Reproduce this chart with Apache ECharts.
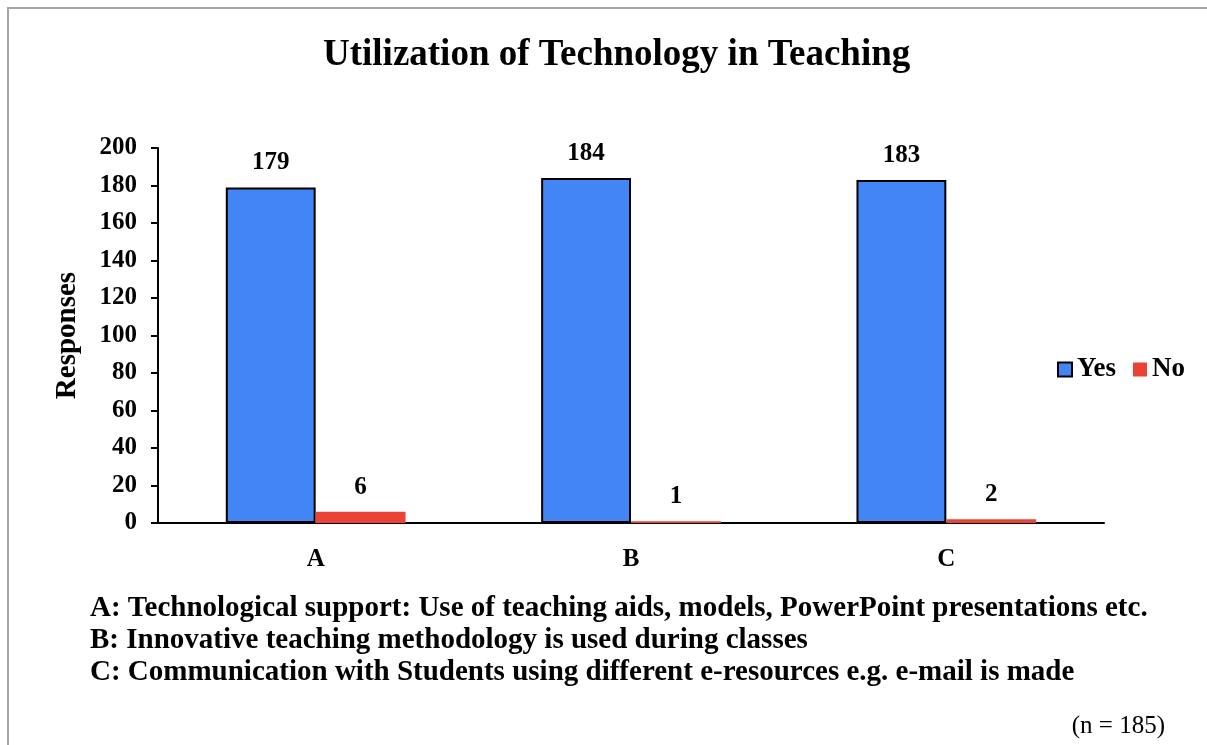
<!DOCTYPE html>
<html>
<head>
<meta charset="utf-8">
<script src="https://cdn.jsdelivr.net/npm/echarts@6/dist/echarts.min.js"></script>
<style>
  html, body { margin: 0; padding: 0; background: #fff; }
  #chart { width: 1207px; height: 745px; }
</style>
</head>
<body>
<div id="chart"></div>
<script>
const categories = ['A', 'B', 'C']
const yesValues = [179, 184, 183]
const noValues = [6, 1, 2]
const yTicks = { min: 0, max: 200, interval: 20 }
const footnotes = [
  'A: Technological support: Use of teaching aids, models, PowerPoint presentations etc.',
  'B: Innovative teaching methodology is used during classes',
  'C: Communication with Students using different e-resources e.g. e-mail is made'
]
const sampleNote = '(n = 185)'

const FONT = '"Liberation Serif", "Times New Roman", serif'

const chart = echarts.init(document.getElementById('chart'))

const labelStyle = {
  show: true,
  position: 'top',
  distance: 12,
  fontFamily: FONT,
  fontWeight: 'bold',
  fontSize: 25,
  color: '#000'
}

const option = {
  animation: false,
  backgroundColor: '#fff',
  textStyle: { fontFamily: FONT },
  title: [
    {
      text: 'Utilization of Technology in Teaching',
      left: 318,
      top: 32,
      textStyle: { fontFamily: FONT, fontWeight: 'bold', fontSize: 37, color: '#000' }
    },
    ...footnotes.map((t, i) => ({
      text: t,
      left: 85,
      top: 589 + i * 32,
      textStyle: { fontFamily: FONT, fontWeight: 'bold', fontSize: 29, color: '#000' }
    })),
    {
      text: sampleNote,
      right: 37,
      top: 709,
      textStyle: { fontFamily: FONT, fontWeight: 'normal', fontSize: 25, color: '#000' }
    }
  ],
  graphic: [
    {
      type: 'polyline',
      shape: { points: [[8, 760], [8, 8], [1220, 8]] },
      style: { stroke: '#a6a6a6', lineWidth: 2, fill: null },
      silent: true
    }
  ],
  legend: {
    data: ['Yes', 'No'],
    right: 17,
    top: 351,
    itemWidth: 14,
    itemHeight: 14,
    itemGap: 17,
    icon: 'rect',
    textStyle: { fontFamily: FONT, fontWeight: 'bold', fontSize: 27, color: '#000' }
  },
  grid: {
    left: 158,
    right: 103,
    top: 148,
    bottom: 222,
    containLabel: false
  },
  xAxis: {
    type: 'category',
    data: categories,
    axisLine: { lineStyle: { color: '#000', width: 2 } },
    axisTick: { show: false },
    axisLabel: { margin: 24, fontFamily: FONT, fontWeight: 'bold', fontSize: 25, color: '#000' }
  },
  yAxis: {
    type: 'value',
    min: yTicks.min,
    max: yTicks.max,
    interval: yTicks.interval,
    name: 'Responses',
    nameLocation: 'middle',
    nameGap: 76,
    nameTextStyle: { fontFamily: FONT, fontWeight: 'bold', fontSize: 29, color: '#000' },
    axisLine: { show: true, lineStyle: { color: '#000', width: 2 } },
    axisTick: { show: true, length: 7, lineStyle: { color: '#000', width: 2 } },
    splitLine: { show: false },
    axisLabel: { margin: 21, fontFamily: FONT, fontWeight: 'bold', fontSize: 25, color: '#000' }
  },
  series: [
    {
      name: 'Yes',
      type: 'bar',
      data: yesValues,
      barGap: '0%',
      barCategoryGap: '43%',
      itemStyle: { color: '#4285f4', borderColor: '#000', borderWidth: 2 },
      label: labelStyle
    },
    {
      name: 'No',
      type: 'bar',
      data: noValues,
      itemStyle: { color: '#ea4335' },
      label: labelStyle
    }
  ]
}

chart.setOption(option)
</script>
</body>
</html>
